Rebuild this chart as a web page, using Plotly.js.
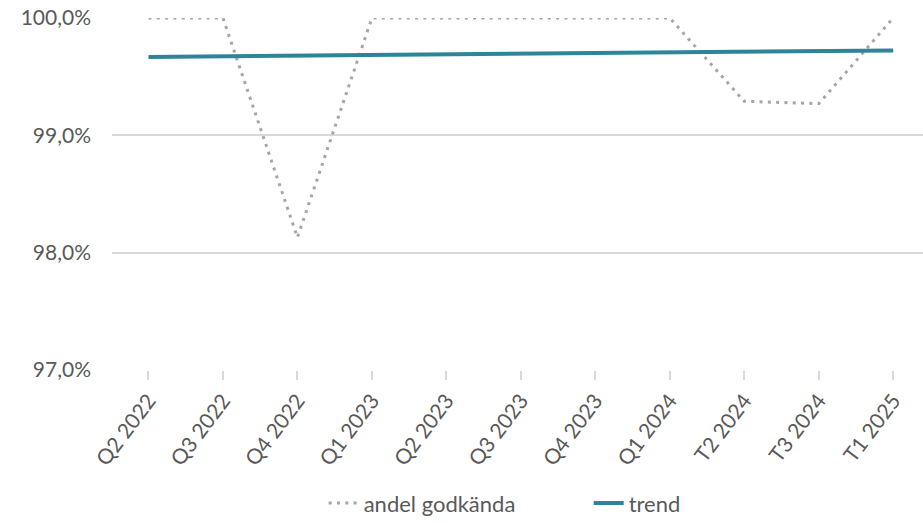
<!DOCTYPE html>
<html>
<head>
<meta charset="utf-8">
<script src="https://cdn.plot.ly/plotly-3.0.1.min.js"></script>
<style>html,body{margin:0;padding:0;background:#fff;}#chart{width:923px;height:523px;}</style>
</head>
<body>
<div id="chart"></div>
<script>
var categories = ["Q2 2022","Q3 2022","Q4 2022","Q1 2023","Q2 2023","Q3 2023","Q4 2023","Q1 2024","T2 2024","T3 2024","T1 2025"];
var andelGodkanda = [100, 100, 98.13, 100, 100, 100, 100, 100, 99.29, 99.27, 100];
var trend = [99.667, 99.673, 99.678, 99.684, 99.690, 99.696, 99.701, 99.707, 99.713, 99.718, 99.724];
var yTicks = [97, 98, 99, 100];
var yTickLabels = ["97,0%", "98,0%", "99,0%", "100,0%"];

var font = "Lato, 'Open Sans', sans-serif";
var traces = [
  {x: categories, y: andelGodkanda, name: "andel godkända", type: "scatter", mode: "lines",
   line: {color: "#a6a6a6", width: 3, dash: "3px,5.3px"}, cliponaxis: false},
  {x: categories, y: trend, name: "trend", type: "scatter", mode: "lines",
   line: {color: "#2e8499", width: 4}, cliponaxis: false}
];
var layout = {
  width: 923, height: 523,
  margin: {l: 112, r: 0, t: 18, b: 153},
  paper_bgcolor: "#fff", plot_bgcolor: "#fff",
  font: {family: font, color: "#595959", size: 21},
  showlegend: true,
  legend: {orientation: "h", x: 0.261, xanchor: "left", yref: "container", y: 0.038, yanchor: "middle",
           font: {family: font, size: 22, color: "#595959"}, entrywidth: 220, entrywidthmode: "pixels"},
  xaxis: {
    type: "category", range: [-0.49, 10.4], automargin: false,
    showgrid: false, zeroline: false, showline: false,
    ticks: "outside", ticklen: 9, tickcolor: "#d9d9d9", tickwidth: 2,
    tickangle: -53, tickfont: {family: font, size: 21, color: "#595959"}
  },
  yaxis: {
    range: [97, 100], tickmode: "array", tickvals: yTicks, ticktext: yTickLabels, automargin: false,
    showgrid: true, gridcolor: "#d9d9d9", gridwidth: 2,
    zeroline: false, showline: false, ticks: "", ticklabelstandoff: 20,
    tickfont: {family: font, size: 21, color: "#595959"}
  }
};
Plotly.newPlot("chart", traces, layout, {displayModeBar: false, staticPlot: true});
</script>
</body>
</html>
